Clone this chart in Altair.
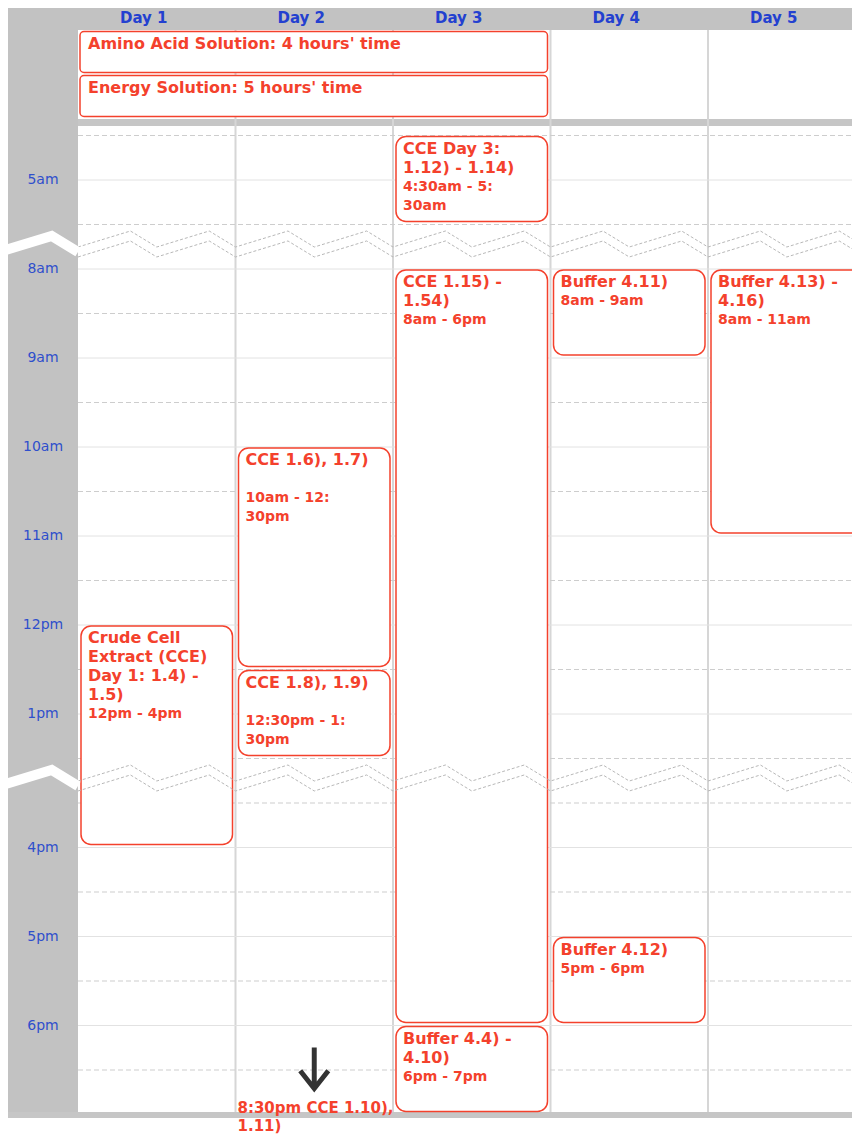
import altair as alt
import pandas as pd

# ---------------- data ----------------
DAYS = ["Day 1", "Day 2", "Day 3", "Day 4", "Day 5"]

HOUR_VALUES = [5, 8, 9, 10, 11, 12, 13, 16, 17, 18]
HOUR_LABELS = ["5am", "8am", "9am", "10am", "11am", "12pm", "1pm", "4pm", "5pm", "6pm"]
HALF_HOURS = [4.5, 5.5, 8.5, 9.5, 10.5, 11.5, 12.5, 13.5, 15.5, 16.5, 17.5, 18.5]

# visible stretches of the day (hours); the time in between is cut out
VISIBLE_SEGMENTS = [(4.5, 5.5), (8.0, 13.5), (15.5, 19.0)]
BREAK_SLOT = 0.5  # space a cut takes, in hour units

ALLDAY_TITLES = ["Amino Acid Solution: 4 hours' time", "Energy Solution: 5 hours' time"]
ALLDAY_FIRST_DAY = [1, 1]
ALLDAY_LAST_DAY = [3, 3]

EVENT_DAY = [1, 2, 2, 3, 3, 3, 4, 4, 5]
EVENT_START = [12, 10, 12.5, 4.5, 8, 18, 8, 17, 8]
EVENT_END = [16, 12.5, 13.5, 5.5, 18, 19, 9, 18, 11]
EVENT_TITLE = [
    ["Crude Cell", "Extract (CCE)", "Day 1: 1.4) -", "1.5)"],
    ["CCE 1.6), 1.7)", ""],
    ["CCE 1.8), 1.9)", ""],
    ["CCE Day 3:", "1.12) - 1.14)"],
    ["CCE 1.15) -", "1.54)"],
    ["Buffer 4.4) -", "4.10)"],
    ["Buffer 4.11)"],
    ["Buffer 4.12)"],
    ["Buffer 4.13) -", "4.16)"],
]
EVENT_TIME = [
    ["12pm - 4pm"],
    ["10am - 12:", "30pm"],
    ["12:30pm - 1:", "30pm"],
    ["4:30am - 5:", "30am"],
    ["8am - 6pm"],
    ["6pm - 7pm"],
    ["8am - 9am"],
    ["5pm - 6pm"],
    ["8am - 11am"],
]

NOTE_DAY = 2
NOTE_ARROW_TIME = 18.5
NOTE_TEXT = ["8:30pm CCE 1.10),", "1.11)"]

# ---------------- helpers ----------------
def to_slot(h):
    s = 0.0
    for a, b in VISIBLE_SEGMENTS:
        if h <= b:
            return s + max(h - a, 0.0)
        s += (b - a) + BREAK_SLOT
    return s + h - VISIBLE_SEGMENTS[-1][1]

BREAK_TOPS = [to_slot(b) for a, b in VISIBLE_SEGMENTS[:-1]]

RED = "#f4412c"
BLUE = "#2340d0"
BLUE2 = "#2f4fcc"
GRAY = "#c2c2c2"
FONT = "DejaVu Sans"
LINE_H = 19

W, H = 844, 1129
xs = alt.Scale(domain=[0, 5], range=[70, 857.5], nice=False, zero=False)
ys = alt.Scale(domain=[0, 11], range=[127.5, 1106.5], nice=False, zero=False)
rs = alt.Scale(domain=[0, 2], range=[22, 110], nice=False, zero=False)

one = pd.DataFrame({"a": [0]})


def band(x, x2, y, y2, color):
    return alt.Chart(one).mark_rect(color=color).encode(
        x=alt.value(x), x2=alt.value(x2), y=alt.value(y), y2=alt.value(y2)
    )


layers = []
layers.append(band(0, 70, 0, 1110, GRAY))
layers.append(band(0, W, 0, 22, GRAY))
layers.append(band(70, W, 111, 118, "#c6c6c6"))
layers.append(band(0, W, 1104, 1110, "#c6c6c6"))

# column separators
vdf = pd.DataFrame({"u": [1, 2, 3, 4]})
layers.append(
    alt.Chart(vdf).mark_rule(color="#d6d6d6", strokeWidth=2).encode(
        x=alt.X("u:Q", scale=xs, axis=None), y=alt.value(22), y2=alt.value(1104)
    )
)

# hour / half-hour lines
hdf = pd.DataFrame({"s": [to_slot(h) for h in HOUR_VALUES], "label": HOUR_LABELS})
layers.append(
    alt.Chart(hdf).mark_rule(color="#e2e2e2", strokeWidth=1).encode(
        y=alt.Y("s:Q", scale=ys, axis=None), x=alt.value(70), x2=alt.value(W)
    )
)
hhdf = pd.DataFrame({"s": [to_slot(h) for h in HALF_HOURS]})
layers.append(
    alt.Chart(hhdf).mark_rule(color="#cdcdcd", strokeWidth=1, strokeDash=[5, 3]).encode(
        y=alt.Y("s:Q", scale=ys, axis=None), x=alt.value(70), x2=alt.value(W)
    )
)

# all-day events
adf = pd.DataFrame({
    "title": ALLDAY_TITLES,
    "u0": [d - 1 for d in ALLDAY_FIRST_DAY],
    "u1": ALLDAY_LAST_DAY,
    "r0": list(range(len(ALLDAY_TITLES))),
    "r1": [i + 1 for i in range(len(ALLDAY_TITLES))],
})
layers.append(
    alt.Chart(adf).mark_rect(
        fill="white", stroke=RED, strokeWidth=1.5, cornerRadius=4,
        xOffset=2, x2Offset=-3, yOffset=1.5, y2Offset=-1.5,
    ).encode(
        x=alt.X("u0:Q", scale=xs, axis=None), x2="u1:Q",
        y=alt.Y("r0:Q", scale=rs, axis=None), y2="r1:Q",
    )
)
layers.append(
    alt.Chart(adf).mark_text(
        align="left", baseline="top", dx=10, dy=6, font=FONT, fontSize=16,
        fontWeight="bold", color=RED,
    ).encode(
        x=alt.X("u0:Q", scale=xs, axis=None),
        y=alt.Y("r0:Q", scale=rs, axis=None),
        text="title:N",
    )
)

# timed events
edf = pd.DataFrame({
    "u0": [d - 1 for d in EVENT_DAY],
    "u1": EVENT_DAY,
    "s0": [to_slot(h) for h in EVENT_START],
    "s1": [to_slot(h) for h in EVENT_END],
    "title": ["\n".join(t) for t in EVENT_TITLE],
    "time": ["\n".join(tm) for tm in EVENT_TIME],
    "n": [len(t) for t in EVENT_TITLE],
})
layers.append(
    alt.Chart(edf).mark_rect(
        fill="white", stroke=RED, strokeWidth=1.5, cornerRadius=10,
        xOffset=3, x2Offset=-3, yOffset=1, y2Offset=-3,
    ).encode(
        x=alt.X("u0:Q", scale=xs, axis=None), x2="u1:Q",
        y=alt.Y("s0:Q", scale=ys, axis=None), y2="s1:Q",
    )
)

# cut markers (zigzags)
def zig(u_from, u_to, valley, peak, top, pid):
    rows = []
    u = u_from
    o = 0
    while u <= u_to + 1e-9:
        rows.append({"u": u, "s": top + valley * BREAK_SLOT, "id": pid, "o": o}); o += 1
        if u + 0.333 < u_to + 0.4:
            rows.append({"u": u + 0.333, "s": top + peak * BREAK_SLOT, "id": pid, "o": o}); o += 1
        u += 0.5
    return rows

zrows, brows = [], []
for i, top in enumerate(BREAK_TOPS):
    zrows += zig(0, 5, 0.506, 0.146, top, f"u{i}")
    zrows += zig(0, 5, 0.73, 0.37, top, f"l{i}")
    r = zig(-1.0, 0, 0.618, 0.258, top, f"b{i}")
    brows += [p for p in r if p["u"] <= 0.02]
zdf = pd.DataFrame(zrows)
bdf = pd.DataFrame(brows)
layers.append(
    alt.Chart(zdf).mark_line(color="#b8b8b8", strokeWidth=1, strokeDash=[3, 2]).encode(
        x=alt.X("u:Q", scale=xs, axis=None), y=alt.Y("s:Q", scale=ys, axis=None),
        detail="id:N", order="o:Q",
    )
)
layers.append(
    alt.Chart(bdf).mark_line(color="white", strokeWidth=10).encode(
        x=alt.X("u:Q", scale=xs, axis=None), y=alt.Y("s:Q", scale=ys, axis=None),
        detail="id:N", order="o:Q",
    )
)

# event texts
layers.append(
    alt.Chart(edf).mark_text(
        align="left", baseline="top", dx=10, dy=5, lineBreak="\n", lineHeight=LINE_H,
        font=FONT, fontSize=16, fontWeight="bold", color=RED,
    ).encode(
        x=alt.X("u0:Q", scale=xs, axis=None), y=alt.Y("s0:Q", scale=ys, axis=None),
        text="title:N",
    )
)
for k in sorted(set(len(t) for t in EVENT_TITLE)):
    layers.append(
        alt.Chart(edf).transform_filter(alt.datum.n == k).mark_text(
            align="left", baseline="top", dx=10, dy=6 + LINE_H * k, lineBreak="\n",
            lineHeight=LINE_H, font=FONT, fontSize=14, fontWeight="bold", color=RED,
        ).encode(
            x=alt.X("u0:Q", scale=xs, axis=None), y=alt.Y("s0:Q", scale=ys, axis=None),
            text="time:N",
        )
    )

# day headers
ddf = pd.DataFrame({"day": DAYS, "uc": [i + 0.5 for i in range(len(DAYS))]})
layers.append(
    alt.Chart(ddf).mark_text(
        align="center", baseline="middle", dx=-13, font=FONT, fontSize=15,
        fontWeight="bold", color=BLUE,
    ).encode(x=alt.X("uc:Q", scale=xs, axis=None), y=alt.value(10), text="day:N")
)

# hour labels
layers.append(
    alt.Chart(hdf).mark_text(
        align="center", baseline="middle", font=FONT, fontSize=14, color=BLUE2,
    ).encode(x=alt.value(35), y=alt.Y("s:Q", scale=ys, axis=None), text="label:N")
)

# note for the event after the last visible hour
ARROW = ("M0,1 L-0.71,0.1 L-0.537,-0.036 L-0.11,0.506 L-0.11,-1 "
         "L0.11,-1 L0.11,0.506 L0.537,-0.036 L0.71,0.1 Z")
ndf = pd.DataFrame({
    "uc": [NOTE_DAY - 0.5], "u0": [NOTE_DAY - 1],
    "s": [to_slot(NOTE_ARROW_TIME)], "send": [to_slot(VISIBLE_SEGMENTS[-1][1])],
    "text": ["\n".join(NOTE_TEXT)],
})
layers.append(
    alt.Chart(ndf).mark_point(shape=ARROW, size=2025, filled=True, color="#333333",
                              opacity=1, strokeWidth=0).encode(
        x=alt.X("uc:Q", scale=xs, axis=None), y=alt.Y("s:Q", scale=ys, axis=None)
    )
)
layers.append(
    alt.Chart(ndf).mark_text(
        align="left", baseline="top", dx=2, dy=-14, lineBreak="\n", lineHeight=18,
        font=FONT, fontSize=15, fontWeight="bold", color=RED,
    ).encode(
        x=alt.X("u0:Q", scale=xs, axis=None), y=alt.Y("send:Q", scale=ys, axis=None),
        text="text:N",
    )
)

chart = (
    alt.layer(*layers)
    .resolve_scale(y="independent")
    .properties(width=W, height=H, padding=0, autosize="none", background="white")
    .configure_view(stroke=None)
)

chart.save("out.html", embed_options={"renderer": "svg", "actions": False})
